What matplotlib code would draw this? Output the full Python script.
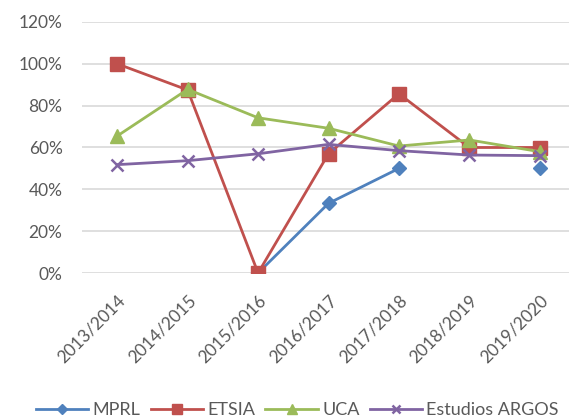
import matplotlib
matplotlib.use("Agg")
import matplotlib.pyplot as plt
import numpy as np
from matplotlib.ticker import PercentFormatter

categories = ["2013/2014", "2014/2015", "2015/2016", "2016/2017", "2017/2018", "2018/2019", "2019/2020"]
mprl = [np.nan, np.nan, 0.0, 0.333, 0.50, np.nan, 0.50]
etsia = [1.00, 0.875, 0.0, 0.57, 0.857, 0.60, 0.60]
uca = [0.655, 0.878, 0.742, 0.692, 0.607, 0.636, 0.58]
argos = [0.518, 0.537, 0.570, 0.615, 0.585, 0.564, 0.561]
series_names = ["MPRL", "ETSIA", "UCA", "Estudios ARGOS"]

plt.rcParams['font.family'] = ['Lato', 'DejaVu Sans']
text_color = "#595959"

fig = plt.figure(figsize=(5.69, 4.17), dpi=100)
ax = fig.add_axes([82/569, 1-273/417, (575-82)/569, (273-22)/417])

x = np.arange(len(categories))
lw = 2.0
ax.plot(x, mprl, color="#4F81BD", marker="D", markersize=7, lw=lw, label=series_names[0], zorder=3)
ax.plot(x, etsia, color="#C0504D", marker="s", markersize=10, lw=lw, label=series_names[1], zorder=4)
ax.plot(x, uca, color="#9BBB59", marker="^", markersize=10, lw=lw, label=series_names[2], zorder=5)
ax.plot(x, argos, color="#8064A2", marker="x", markersize=9, mew=1.8, lw=lw, label=series_names[3], zorder=6)

ax.set_xlim(-0.5, len(categories) - 0.5)
ax.set_ylim(0, 1.2)
ax.set_yticks(np.arange(0, 1.21, 0.2))
ax.yaxis.set_major_formatter(PercentFormatter(1.0, decimals=0))
ax.grid(axis='y', color="#D9D9D9", lw=1.2)
ax.set_axisbelow(True)
for s in ax.spines.values():
    s.set_visible(False)
ax.tick_params(axis='both', length=0, colors=text_color, labelsize=12.5)
ax.tick_params(axis='y', pad=14)
ax.set_xticks(x)
ax.set_xticklabels(categories, rotation=45, ha='right', rotation_mode='anchor')
ax.tick_params(axis='x', pad=14)

handles, labels = ax.get_legend_handles_labels()
leg = fig.legend(handles, labels, loc='center left', bbox_to_anchor=(36/569, 1-410/417),
                 ncol=4, frameon=False, fontsize=13, handlelength=2.9, columnspacing=0.55,
                 handletextpad=0.25, borderaxespad=0, borderpad=0, markerscale=0.7)
for t in leg.get_texts():
    t.set_color(text_color)

fig.savefig("out.png", dpi=100)
